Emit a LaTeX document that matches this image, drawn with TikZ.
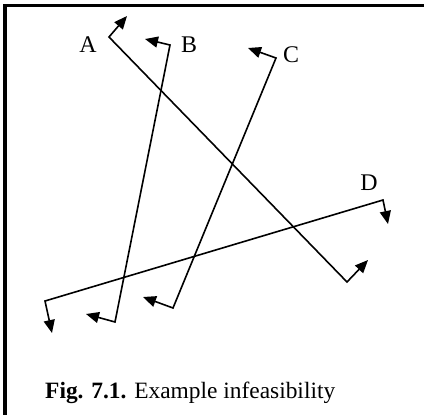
\documentclass[tikz,border=0pt]{standalone}
\usepackage{fontspec}
\setmainfont{Liberation Serif}
\usetikzlibrary{arrows.meta}
\begin{document}
\begin{tikzpicture}[x=1bp,y=-1bp,
  route/.style={line width=1.6bp,{Triangle[length=13bp,width=11bp]}-{Triangle[length=13bp,width=11bp]}},
  lbl/.style={font=\fontsize{24}{28}\selectfont,inner sep=0pt},
  frame/.style={line width=3bp}]
\useasboundingbox (0,0) rectangle (424,415);
\draw[frame] (4,5) -- (424,5);
\draw[frame] (5,4) -- (5,415);
% A
\coordinate (a1) at (127,16);
\coordinate (a2) at (109,37);
\coordinate (a3) at (347,282);
\coordinate (a4) at (368,260);
\draw[route] (a1) -- (a2) -- (a3) -- (a4);
% B
\coordinate (b1) at (145,39);
\coordinate (b2) at (170,45);
\coordinate (b3) at (115,322);
\coordinate (b4) at (86,314);
\draw[route] (b1) -- (b2) -- (b3) -- (b4);
% C
\coordinate (c1) at (248,48);
\coordinate (c2) at (276,58);
\coordinate (c3) at (173,308);
\coordinate (c4) at (143,297);
\draw[route] (c1) -- (c2) -- (c3) -- (c4);
% D
\coordinate (d1) at (388,224);
\coordinate (d2) at (383,200);
\coordinate (d3) at (45,301);
\coordinate (d4) at (52,333);
\draw[route] (d1) -- (d2) -- (d3) -- (d4);
\node[lbl] (la) at (88,45) {A};
\node[lbl] (lb) at (189,45) {B};
\node[lbl] (lc) at (291,55) {C};
\node[lbl] (ld) at (369,183) {D};
\node[lbl,anchor=west,font=\fontsize{23.5}{27}\selectfont] (cap) at (45,393) {\textbf{Fig. 7.1.} Example infeasibility};
\end{tikzpicture}
\end{document}
